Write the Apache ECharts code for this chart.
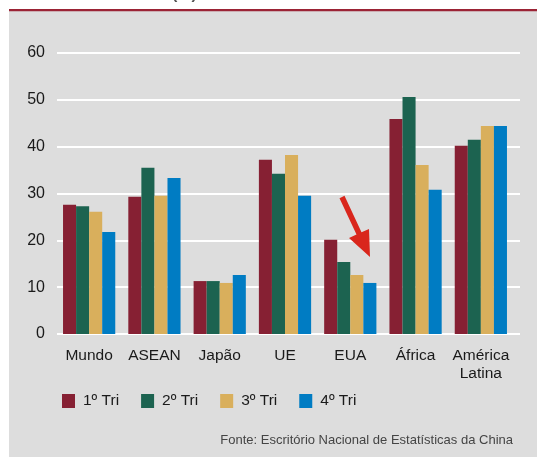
<!DOCTYPE html>
<html><head><meta charset="utf-8">
<script src="https://cdn.jsdelivr.net/npm/echarts@6/dist/echarts.min.js"></script>
<style>html,body{margin:0;padding:0;background:#fff}#c{width:537px;height:457px}</style>
</head><body><div id="c"></div>
<script>
const categories = ['Mundo', 'ASEAN', 'Japão', 'UE', 'EUA', 'África', 'América\nLatina'];
const seriesNames = ['1º Tri', '2º Tri', '3º Tri', '4º Tri'];
const tri1 = [27.6, 29.3, 11.3, 37.2, 20.1, 45.9, 40.2];
const tri2 = [27.3, 35.5, 11.3, 34.2, 15.4, 50.6, 41.5];
const tri3 = [26.1, 29.5, 10.9, 38.2, 12.6, 36.1, 44.4];
const tri4 = [21.8, 33.3, 12.6, 29.5, 10.9, 30.8, 44.4];
const colors = ['#862033', '#1c6350', '#d9af5c', '#007cc3'];
const source = 'Fonte: Escritório Nacional de Estatísticas da China';

const font = '"Liberation Sans", Arial, Helvetica, sans-serif';
const chart = echarts.init(document.getElementById('c'), null, {renderer: 'canvas'});
const values = [tri1, tri2, tri3, tri4];
chart.setOption({
  animation: false,
  backgroundColor: '#fff',
  graphic: [
    {type: 'rect', shape: {x: 9, y: 11, width: 528, height: 446}, style: {fill: '#dddddd'}, z: -10, silent: true},
    {type: 'rect', shape: {x: 9, y: 9, width: 528, height: 2.2}, style: {fill: '#9b2335'}, z: -9, silent: true},
    {type: 'text', x: 172, y: -13.5, style: {text: '(%)', font: 'bold 16px ' + font, fill: '#555'}},
    {type: 'polygon', shape: {points: [[339.5,198.2],[344.5,195.8],[361.5,232.2],[369,229],[370,257],[349,238],[356.5,234.6]]},
     style: {fill: '#d9261c'}, z: 20},
    {type: 'text', right: 24, top: 434, style: {text: source, font: '13px ' + font, fill: '#444', textAlign: 'right'}}
  ],
  grid: [
    {left: 56.5, right: 23.5, top: 53, bottom: 123},
    {left: 57, right: 17, top: 53, bottom: 123}
  ],
  legend: {
    left: 62, top: 393, padding: 0, itemWidth: 13, itemHeight: 14, itemGap: 22,
    icon: 'rect',
    textStyle: {fontFamily: font, fontSize: 15.5, color: '#1a1a1a', padding: [0, 0, 0, 3]},
    data: seriesNames
  },
  xAxis: [
    {type: 'category', gridIndex: 0, data: categories,
     axisLine: {show: false}, axisTick: {show: false},
     axisLabel: {fontFamily: font, fontSize: 15.5, color: '#1a1a1a', margin: 13, lineHeight: 18, interval: 0}},
    {type: 'value', gridIndex: 1, show: false, min: 0, max: 1}
  ],
  yAxis: [
    {type: 'value', gridIndex: 0, min: 0, max: 60, interval: 10, axisLabel: {show: false},
     splitLine: {show: false}, axisLine: {show: false}, axisTick: {show: false}},
    {type: 'value', gridIndex: 1, min: 0, max: 60, interval: 10,
     axisLabel: {fontFamily: font, fontSize: 16, color: '#1a1a1a', margin: 12},
     splitLine: {show: true, lineStyle: {color: '#ffffff', width: 2}},
     axisLine: {show: false}, axisTick: {show: false}}
  ],
  series: seriesNames.map((n, i) => ({
    name: n, type: 'bar', xAxisIndex: 0, yAxisIndex: 0, data: values[i],
    itemStyle: {color: colors[i]}, barGap: '0%', barCategoryGap: '20%', z: 5
  }))
});
</script></body></html>
